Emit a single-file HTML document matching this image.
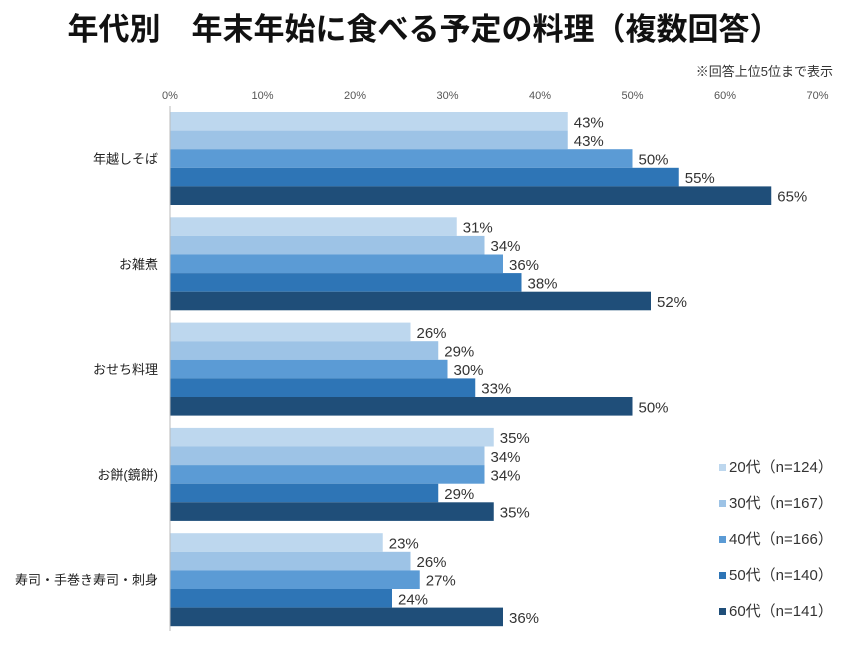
<!DOCTYPE html>
<html><head><meta charset="utf-8"><style>
body{margin:0;background:#fff;width:853px;height:640px;overflow:hidden;font-family:"Liberation Sans","Noto Sans CJK JP",sans-serif;}
</style></head><body>
<svg width="853" height="640" xmlns="http://www.w3.org/2000/svg" style="font-family:'Liberation Sans','Noto Sans CJK JP',sans-serif">
<text x="424" y="40" text-anchor="middle" font-size="31" font-weight="bold" fill="#111">年代別　年末年始に食べる予定の料理（複数回答）</text>
<text x="833" y="76" text-anchor="end" font-size="13" fill="#333">※回答上位5位まで表示</text>
<g id="g"></g>
</svg>
<script>
const categories=["年越しそば","お雑煮","おせち料理","お餅(鏡餅)","寿司・手巻き寿司・刺身"];
const series=["20代(n=124)","30代(n=167)","40代(n=166)","50代(n=140)","60代(n=141)"];
const v20=[43,31,26,35,23];
const v30=[43,34,29,34,26];
const v40=[50,36,30,34,27];
const v50=[55,38,33,29,24];
const v60=[65,52,50,35,36];
const ticks=[0,10,20,30,40,50,60,70];
const values=[v20,v30,v40,v50,v60];
const colors=["#bdd7ee","#9dc3e6","#5b9bd5","#2e75b6","#1f4e79"];
const NS="http://www.w3.org/2000/svg";
const g=document.getElementById("g");
const x0=170,pxPer=9.25,groupTop=112,groupStep=105.3,barH=18.6;
const X=v=>x0+v*pxPer;
function mk(t,a,txt){const e=document.createElementNS(NS,t);for(const k in a)e.setAttribute(k,a[k]);if(txt!==undefined)e.textContent=txt;g.appendChild(e);return e;}
ticks.forEach(t=>{
 const e=mk("text",{x:X(t),y:99,"text-anchor":"middle","font-size":"11",fill:"#555"},t+"%");
 
 
});
categories.forEach((c,i)=>{
 const top=groupTop+i*groupStep;
 const l=mk("text",{x:158,y:top+5*barH/2+5,"text-anchor":"end","font-size":"13",fill:"#222"},c);
 
 
 values.forEach((arr,s)=>{
  const y=top+s*barH;
  const r=mk("rect",{x:x0,y:y,width:X(arr[i])-x0,height:barH,fill:colors[s]});
  
  
  const t=mk("text",{x:X(arr[i])+6,y:y+barH/2+6,"font-size":"15",fill:"#333"},arr[i]+"%");
  
  
 });
});
const ax=mk("line",{x1:x0,y1:106,x2:x0,y2:631,stroke:"#bbb","stroke-width":1});


series.forEach((s,i)=>{
 const y=470+i*36;
 const m=mk("rect",{x:719,y:y-6,width:7,height:7,fill:colors[i]});
 
 
 const t=mk("text",{x:729,y:y+2,"font-size":"15",fill:"#333"},s.replace("(","（").replace(")","）"));
 
 
});
</script>
</body></html>
